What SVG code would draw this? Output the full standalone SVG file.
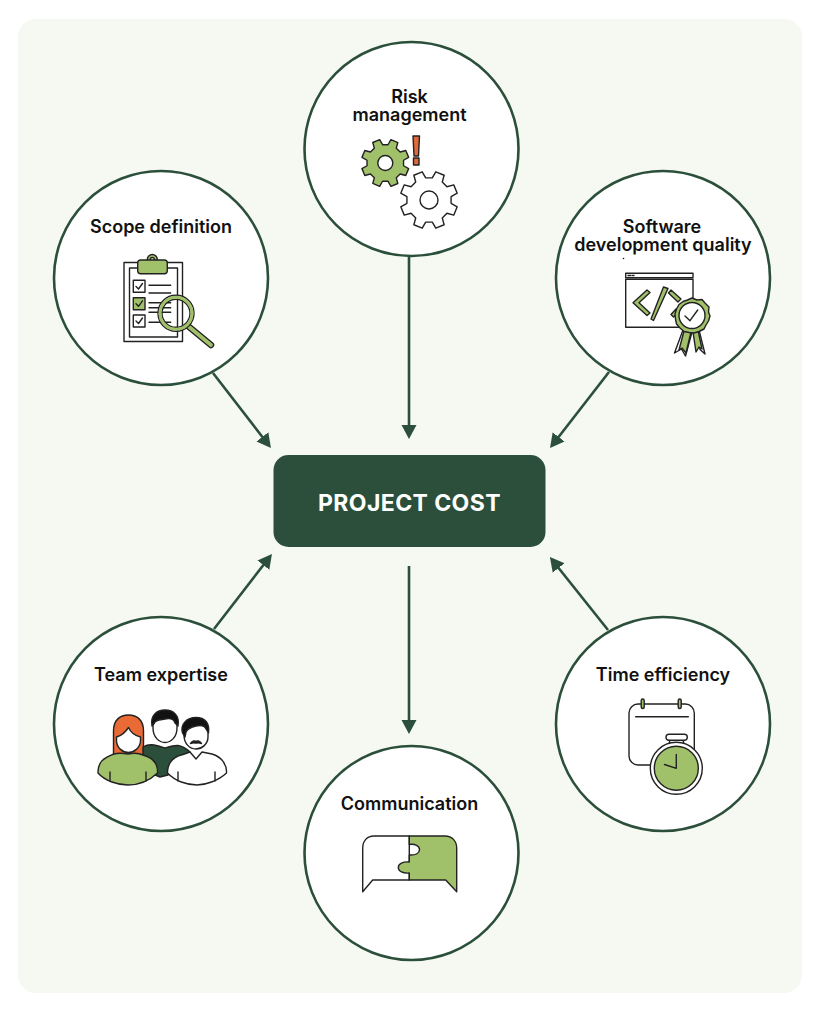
<svg xmlns="http://www.w3.org/2000/svg" xmlns:xlink="http://www.w3.org/1999/xlink" width="820" height="1024" viewBox="0 0 820 1024">
<style>
.c{fill:#fff;stroke:#2b4f3a;stroke-width:2.6}
.t{font-family:Inter,"Noto Sans","Liberation Sans",sans-serif;font-weight:600;font-size:18px;fill:#111;text-anchor:middle}
.i{stroke:#222;stroke-width:1.4;stroke-linejoin:round;stroke-linecap:round}
.w{fill:#fff}.g{fill:#a0c06a}.d{fill:#2b4f3a}.n{fill:none}.k{fill:#111}
.ar{fill:none;stroke:#2b4f3a;stroke-width:2.6;marker-end:url(#h)}
.gear{vector-effect:non-scaling-stroke}
</style>
<defs>
<marker id="h" markerUnits="userSpaceOnUse" markerWidth="15" markerHeight="16" refX="1" refY="8" orient="auto"><path d="M0 .5L14 8L0 15.5z" fill="#2b4f3a"/></marker>
<path id="gearp" class="gear" d="M.747-.186L.988-.156L.988.156L.747.186L.66.397L.809.589L.589.809L.397.66L.186.747L.156.988L-.156.988L-.186.747L-.397.66L-.589.809L-.809.589L-.66.397L-.747.186L-.988.156L-.988-.156L-.747-.186L-.66-.397L-.809-.589L-.589-.809L-.397-.66L-.186-.747L-.156-.988L.156-.988L.186-.747L.397-.66L.589-.809L.809-.589L.66-.397z"/>
</defs>
<rect width="820" height="1024" fill="#fff"/>
<rect x="18" y="19" width="784" height="974" rx="18" fill="#f5f9f1"/>

<g id="connectors">
<path class="ar" d="M409 257V426"/>
<path class="ar" d="M213 373L263 437.7"/>
<path class="ar" d="M609 372L558 437.7"/>
<path class="ar" d="M214 629L264 564.3"/>
<path class="ar" d="M608 630L558 567.2"/>
<path class="ar" d="M409 566V721"/>
</g>

<g id="project-cost">
<rect x="273.500" y="455" width="272" height="92" rx="15" fill="#2b4f3a"/>
<text x="409.500" y="511" font-family="Inter,'Noto Sans','Liberation Sans',sans-serif" font-weight="700" font-size="23" letter-spacing=".4" fill="#fff" text-anchor="middle">PROJECT COST</text>
</g>

<g id="risk-management">
<circle class="c" cx="411.500" cy="149" r="107"/>
<text class="t" y="103"><tspan x="409.500">Risk</tspan><tspan x="409.500" dy="18">management</tspan></text>
<g class="i">
<use xlink:href="#gearp" href="#gearp" class="g" transform="translate(385.300 163) rotate(22.500) scale(24)"/>
<circle class="w" cx="385.300" cy="163" r="7.500"/>
<use xlink:href="#gearp" href="#gearp" class="w" transform="translate(429 200) rotate(22.500) scale(29)"/>
<circle class="w" cx="429" cy="200" r="9"/>
<path fill="#e0683a" d="M413 136H419.500L418.500 156H414z"/>
<rect fill="#e0683a" x="413.500" y="158" width="5.500" height="7"/>
</g>
</g>

<g id="scope-definition">
<circle class="c" cx="161" cy="278" r="107"/>
<text class="t" x="161" y="232.500">Scope definition</text>
<g class="i">
<rect class="w" x="124" y="262.500" width="58.500" height="79"/>
<rect class="w" x="129.500" y="268" width="48" height="69"/>
<circle class="g" cx="152.300" cy="259.500" r="5"/><circle class="w" cx="152.300" cy="259.500" r="2"/>
<rect class="g" x="137.700" y="260" width="29.600" height="13.700" rx="3"/>
<rect class="w" x="133.300" y="280.300" width="11.700" height="12"/>
<rect class="g" x="133.300" y="297.700" width="11.700" height="12"/>
<rect class="w" x="133.300" y="315" width="11.700" height="12"/>
<path class="n" d="M136 286.500L138.500 289L142.500 283.500M136 303.800L138.500 306.300L142.500 300.800M136 321L138.500 323.500L142.500 318M149 285.300H170.700M149 293H170.700M149 302.700H170.700M149 307.700H170.700M149 312.300H170.700M149 322.300H170.700"/>
<path fill="none" stroke="#222" stroke-width="6.500" stroke-linecap="round" d="M187.700 325.700L211 345"/>
<path fill="none" stroke="#a0c06a" stroke-width="3.800" stroke-linecap="round" d="M187.700 325.700L211 345"/>
<circle class="n" cx="176" cy="313.300" r="18"/><circle class="n" cx="176" cy="313.300" r="14"/>
<circle fill="none" stroke="#a0c06a" stroke-width="3" cx="176" cy="313.300" r="16"/>
</g>
</g>

<g id="software-quality">
<circle class="c" cx="663" cy="278" r="107"/>
<text class="t" y="232.500"><tspan x="662">Software</tspan><tspan x="663" dy="18">development quality</tspan></text>
<circle class="k" cx="623.500" cy="258.500" r=".8"/>
<g class="i">
<rect class="w" x="625.700" y="273.300" width="67.300" height="4.400"/>
<rect class="w" x="625.700" y="279.300" width="67.300" height="48"/>
<path class="n" d="M628 275.500H631M632.500 275.500H634"/>
<path class="g" d="M647 290L633 302.700L647 315.500L650 313L639 302.700L650 292.500z"/>
<path class="g" d="M663.500 287L651 319L653.500 320.500L668 288.500z"/>
<path class="g" d="M671 290L681 299L678 302L668.500 293z"/>
<path class="g" d="M671 314.500L676 309L679 312L673.500 317z"/>
<path class="w" d="M683 330L674.500 353L681.500 349L685.500 356L692 332L698 332L700 349.500L705 354L699 330z"/>
<path class="g" d="M684 331L679 350L682 348L686 353L691 332z"/>
<path class="g" d="M693 332L696 352L699 347L702 349L698 330z"/>
<path class="g" d="M692 298L697 300L702 299.500L705 303L709 307L708.500 312L710 316L708.500 321L706 325L704 329L699 331.500L694 333L689 332.500L684 331.500L680 328L676.500 324L675.500 319L675 314L676.500 309L679 304.500L683 301.500L687.500 300z"/>
<circle class="w" cx="692" cy="315.500" r="13"/>
<path class="n" d="M685 316L690 320.700L697.700 310"/>
</g>
</g>

<g id="team-expertise">
<circle class="c" cx="161" cy="724" r="107"/>
<text class="t" x="161" y="680.500">Team expertise</text>
<g class="i">
<path fill="#e96a35" d="M113.500 755V731C113.500 720 120 715 128.500 715C137 715 143.500 720 143.500 731V755z"/>
<path class="w" d="M116.500 737C120 736 125 733 128.500 727.500C131 733 136 736 140.500 737V741C140 748 134 752.500 128.500 752.500C122.500 752.500 117 748 116.500 741z"/>
<path class="d" d="M143 747C150 743 155 745 165 748C175 745 180 743 190 752L168 775L160 777L143 770z"/>
<path class="w" d="M153 728V723C153 716 159 711 165 711C172 711 177 716 177 723V728C177 737 171 742.500 165 742.500C159 742.500 153 737 153 728z"/>
<path class="k" d="M152 726C150 715 157 710 165 710C173 710 180 715 178 726L175 723C174 719 170 718 165 719C159 720 155 720 154.500 723z"/>
<path class="g" d="M98 773C98 762 103 758 114 754C118 753 122 753 128 754C133 753 139 753 143 755C154 758 158 765 157.500 773C148 782 137 785 128 785C118 785 105 781 98 773z"/>
<path class="w" d="M167.500 773C167.500 763 172 757 183 754.500L190 752L196 759L202 752L212 754C222 757 227 765 226.500 773C218 781 205 785 197 785C187 785 175 781 167.500 773z"/>
<path class="w" d="M184 735V731C184 724 190 719 196.500 719C203 719 208 724 208 731V737C208 744 202 749 196 749C190 749 184 744 184 735z"/>
<path class="k" d="M182.500 733C180 724 187 717.500 196 717.500C205 717.500 210 723 208.500 733L206 729C205 726 201 725 196 726C191 727 188 728 186 732L185 737z"/>
<path class="k" d="M190.500 743.500C192.500 740.500 195 740.500 196 741.500C197 740.500 199.500 740.500 201.500 743.500C199 742.500 197.500 743 196 743C194.500 743 193 742.500 190.500 743.500z"/>
<path class="n" d="M110 772V781M146 772V781M178 772V781M215 772V781"/>
</g>
</g>

<g id="time-efficiency">
<circle class="c" cx="663" cy="724" r="107"/>
<text class="t" x="663" y="680.500">Time efficiency</text>
<g class="i">
<rect class="n" x="629" y="704" width="65.300" height="61" rx="9"/>
<path class="n" d="M635.700 716.700H688.300"/>
<rect class="g" x="641.200" y="699" width="3" height="9.500" rx="1.500"/>
<rect class="g" x="678.200" y="699" width="3" height="9.500" rx="1.500"/>
<path class="w" d="M669 744L670 740H683L684 744z"/>
<rect class="w" x="666" y="734.300" width="21.300" height="6" rx="3"/>
<circle class="w" cx="676.300" cy="768.300" r="26"/>
<circle class="g" cx="676.300" cy="768.300" r="22"/>
<path class="n" d="M676.300 754.500V768.300L664.500 764.500"/>
</g>
</g>

<g id="communication">
<circle class="c" cx="411.500" cy="853" r="107"/>
<text class="t" x="409.500" y="809.500">Communication</text>
<g class="i">
<path class="w" d="M409.300 836H374C367 836 362.700 841 362.700 848V891.700L372.700 880H409.300z"/>
<path class="g" d="M409.300 836H445C452 836 456.700 841 456.700 848V891.700L445.700 880H409.300V873C403 873.500 398.300 871.500 398.300 867.500C398.300 863.500 403 861.500 409.300 862V855C416 855.500 419.500 853 419.500 849.500C419.500 846 415 843.500 409.300 844.500z"/>
</g>
</g>
</svg>
